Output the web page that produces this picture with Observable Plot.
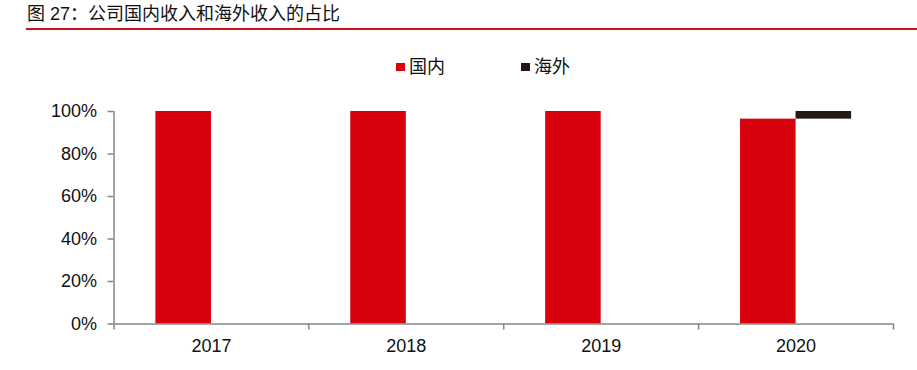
<!DOCTYPE html>
<html><head><meta charset="utf-8">
<script src="https://cdn.jsdelivr.net/npm/d3@7"></script>
<script src="https://cdn.jsdelivr.net/npm/@observablehq/plot@0.6"></script>
<style>
body{margin:0;background:#fff;}
#wrap{position:relative;width:917px;height:370px;overflow:hidden;font-family:"Liberation Sans","Noto Sans CJK SC",sans-serif;color:#111;}
#title{position:absolute;left:27px;top:1px;font-size:18px;line-height:26px;white-space:nowrap;}
#rule{position:absolute;left:26px;right:0;top:28px;height:2px;background:#D0101A;}
#legend{position:absolute;left:0;top:54px;width:917px;height:26px;font-size:18px;line-height:26px;}
.sw{position:absolute;top:8.5px;width:8.5px;height:8.5px;}
.lt{position:absolute;top:0;white-space:nowrap;}
#chart{position:absolute;left:0;top:0;}
</style></head><body>
<div id="wrap">
  <div id="title">图 27：公司国内收入和海外收入的占比</div>
  <div id="rule"></div>
  <div id="legend"></div>
  <div id="chart"></div>
</div>
<script>
const years = [2017, 2018, 2019, 2020];
const xLabels = ["2017", "2018", "2019", "2020"];
const domestic = [100, 100, 100, 96.4];
const overseas = [0, 0, 0, 3.6];
const yTicks = [0, 20, 40, 60, 80, 100];
const seriesNames = ["国内", "海外"];
const colors = ["#D9000D", "#231815"];

// legend
const legend = document.getElementById("legend");
const legendPos = [{sw: 396, tx: 409}, {sw: 521, tx: 534}];
seriesNames.forEach((name, i) => {
  const s = document.createElement("div");
  s.className = "sw"; s.style.left = legendPos[i].sw + "px"; s.style.background = colors[i];
  const t = document.createElement("div");
  t.className = "lt"; t.style.left = legendPos[i].tx + "px"; t.textContent = name;
  legend.appendChild(s); legend.appendChild(t);
});

const rows = years.map((y, i) => ({year: y, domestic: domestic[i], overseas: overseas[i]}));
const W = 0.285;
const separators = [years[0] - 0.5, ...years.map(y => y + 0.5)];
const axisColor = "#868686";

const plot = Plot.plot({
  width: 917, height: 370,
  marginTop: 111, marginBottom: 46.5, marginLeft: 113.5, marginRight: 24,
  x: {domain: [years[0] - 0.5, years[years.length - 1] + 0.5]},
  y: {domain: [0, 100]},
  style: {fontFamily: '"Liberation Sans","Noto Sans CJK SC",sans-serif', fontSize: "18px", color: "#111", background: "transparent"},
  marks: [
    Plot.rectY(rows, {x1: d => d.year - W, x2: d => d.year, y1: 0, y2: "domestic", fill: colors[0]}),
    Plot.rectY(rows.filter(d => d.overseas > 0), {x1: d => d.year, x2: d => d.year + W, y1: "domestic", y2: d => d.domestic + d.overseas, fill: colors[1]}),
    Plot.ruleY([0], {stroke: axisColor, strokeWidth: 1.5}),
    Plot.ruleX([separators[0]], {y1: 0, y2: 100, stroke: axisColor, strokeWidth: 1.5}),
    Plot.axisY(yTicks, {tickFormat: d => d + "%", tickSize: 6, tickPadding: 11, stroke: axisColor, strokeWidth: 1.5, fill: "#111", fontSize: 18, label: null}),
    Plot.axisX(years, {tickFormat: d => xLabels[years.indexOf(d)], tickSize: 0, tickPadding: 15, fill: "#111", fontSize: 18, label: null}),
    Plot.axisX(separators, {tickFormat: () => "", tickSize: 6, stroke: axisColor, strokeWidth: 1.5, label: null})
  ]
});
document.getElementById("chart").appendChild(plot);
</script>
</body></html>
